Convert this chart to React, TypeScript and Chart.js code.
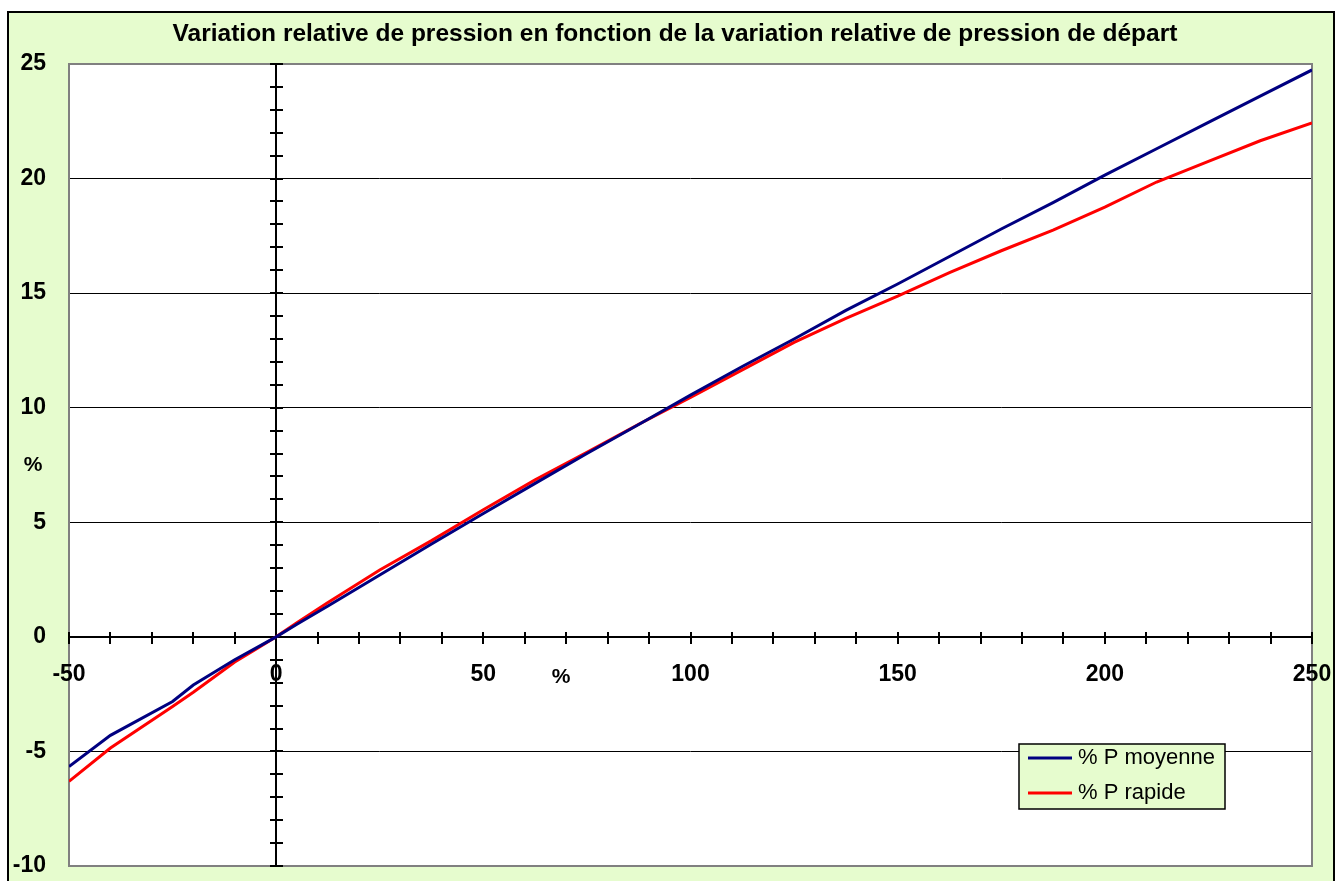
import React, { useEffect, useRef } from "react";
import { Chart, registerables } from "chart.js";
Chart.register(...registerables);

const chartTitle = "Variation relative de pression en fonction de la variation relative de pression de départ";
const xValues = [-50, -40, -25, -20, -10, -5, 0, 5, 12.5, 25, 37.5, 50, 62.5, 75, 87.5, 100, 112.5, 125, 137.5, 150, 162.5, 175, 187.5, 200, 212.5, 225, 237.5, 250];
const pMoyenne = [-5.66, -4.3, -2.82, -2.1, -1.0, -0.5, 0, 0.55, 1.35, 2.7, 4.05, 5.38, 6.7, 8.0, 9.27, 10.55, 11.8, 13.0, 14.25, 15.4, 16.6, 17.8, 18.95, 20.15, 21.3, 22.45, 23.6, 24.74];
const pRapide = [-6.31, -4.85, -3.04, -2.42, -1.1, -0.55, 0, 0.62, 1.5, 2.92, 4.2, 5.55, 6.85, 8.05, 9.28, 10.45, 11.65, 12.85, 13.9, 14.87, 15.9, 16.85, 17.75, 18.75, 19.85, 20.75, 21.65, 22.43];
const seriesLabels = ["% P moyenne", "% P rapide"];
const seriesColors = ["#000080", "#FF0000"];
const xTickLabels = [-50, 0, 50, 100, 150, 200, 250];
const xAxisTitle = "%";
const yAxisTitle = "%";

const FONT = "Arial, 'Liberation Sans', sans-serif";
const GREEN = "#E6FCCE";

const decorPlugin = {
  id: "decor",
  beforeDraw(chart: any) {
    const { ctx, width, height, chartArea: a } = chart;
    ctx.save();
    ctx.fillStyle = "#FFFFFF";
    ctx.fillRect(0, 0, width, height);
    ctx.fillStyle = GREEN;
    ctx.fillRect(7, 11, 1328, height);
    ctx.strokeStyle = "#000";
    ctx.lineWidth = 2;
    ctx.strokeRect(8, 12, 1326, height + 10);
    ctx.fillStyle = "#FFFFFF";
    ctx.fillRect(a.left, a.top, a.right - a.left, a.bottom - a.top);
    // title
    ctx.fillStyle = "#000";
    ctx.font = `bold 24.5px ${FONT}`;
    ctx.textAlign = "center";
    ctx.textBaseline = "middle";
    ctx.fillText(chartTitle, 675, 34);
    ctx.restore();
  },
  beforeDatasetsDraw(chart: any) {
    const { ctx, chartArea: a } = chart;
    const xs = chart.scales.x;
    const ys = chart.scales.y;
    const x0 = Math.round(xs.getPixelForValue(0));
    const y0 = Math.round(ys.getPixelForValue(0));
    ctx.save();
    // plot border
    ctx.strokeStyle = "#808080";
    ctx.lineWidth = 2;
    ctx.strokeRect(a.left, a.top, a.right - a.left, a.bottom - a.top);
    ctx.strokeStyle = "#000";
    ctx.lineWidth = 2;
    // y axis at x = 0
    ctx.beginPath();
    ctx.moveTo(x0, a.top);
    ctx.lineTo(x0, a.bottom);
    ctx.stroke();
    for (let v = -10; v <= 25; v += 1) {
      const py = Math.round(ys.getPixelForValue(v));
      ctx.beginPath();
      ctx.moveTo(x0 - 6, py);
      ctx.lineTo(x0 + 7, py);
      ctx.stroke();
    }
    // x axis at y = 0
    ctx.beginPath();
    ctx.moveTo(a.left, y0);
    ctx.lineTo(a.right, y0);
    ctx.stroke();
    for (let v = -50; v <= 250; v += 10) {
      const px = Math.round(xs.getPixelForValue(v));
      ctx.beginPath();
      ctx.moveTo(px, y0 - 5);
      ctx.lineTo(px, y0 + 7);
      ctx.stroke();
    }
    // x tick labels
    ctx.fillStyle = "#000";
    ctx.font = `bold 23px ${FONT}`;
    ctx.textAlign = "center";
    ctx.textBaseline = "middle";
    xTickLabels.forEach((v) => {
      ctx.fillText(String(v), xs.getPixelForValue(v), y0 + 38);
    });
    ctx.font = `bold 21px ${FONT}`;
    ctx.fillText(xAxisTitle, 561, y0 + 40);
    ctx.fillText(yAxisTitle, 33, 465);
    ctx.restore();
  },
  afterDraw(chart: any) {
    const { ctx } = chart;
    ctx.save();
    ctx.fillStyle = GREEN;
    ctx.fillRect(1019, 744, 206, 65);
    ctx.strokeStyle = "#000";
    ctx.lineWidth = 1.5;
    ctx.strokeRect(1019, 744, 206, 65);
    ctx.font = `22px ${FONT}`;
    ctx.textAlign = "left";
    ctx.textBaseline = "middle";
    chart.data.datasets.forEach((ds: any, i: number) => {
      const y = 758 + i * 35;
      ctx.strokeStyle = ds.borderColor;
      ctx.lineWidth = 3;
      ctx.beginPath();
      ctx.moveTo(1028, y);
      ctx.lineTo(1072, y);
      ctx.stroke();
      ctx.fillStyle = "#000";
      ctx.fillText(ds.label, 1078, y);
    });
    ctx.restore();
  },
};

export default function App() {
  const ref = useRef<HTMLCanvasElement>(null);
  useEffect(() => {
    document.body.style.margin = "0";
    const canvas = ref.current!;
    const chart = new Chart(canvas, {
      type: "line",
      data: {
        datasets: [
          {
            label: seriesLabels[0],
            data: xValues.map((x, i) => ({ x, y: pMoyenne[i] })),
            borderColor: seriesColors[0],
            backgroundColor: seriesColors[0],
            borderWidth: 3,
            pointRadius: 0,
            tension: 0,
          },
          {
            label: seriesLabels[1],
            data: xValues.map((x, i) => ({ x, y: pRapide[i] })),
            borderColor: seriesColors[1],
            backgroundColor: seriesColors[1],
            borderWidth: 3,
            pointRadius: 0,
            tension: 0,
          },
        ],
      },
      options: {
        responsive: false,
        animation: false,
        devicePixelRatio: 1,
        layout: { padding: { left: 0, top: 64, right: 29, bottom: 15 } },
        plugins: { legend: { display: false }, title: { display: false }, tooltip: { enabled: false } },
        scales: {
          x: { type: "linear", min: -50, max: 250, display: false },
          y: {
            type: "linear",
            min: -10,
            max: 25,
            afterFit: (s: any) => {
              s.width = 69;
              s.paddingTop = 0;
              s.paddingBottom = 0;
            },
            ticks: {
              stepSize: 5,
              color: "#000",
              padding: 23,
              font: { family: FONT, size: 23, weight: "bold" },
            },
            grid: { color: "#000", lineWidth: 1, drawTicks: false },
            border: { display: false },
          },
        },
      },
      plugins: [decorPlugin],
    } as any);
    return () => chart.destroy();
  }, []);
  return (
    <div style={{ width: 1341, height: 881 }}>
      <canvas ref={ref} width={1341} height={881} />
    </div>
  );
}
